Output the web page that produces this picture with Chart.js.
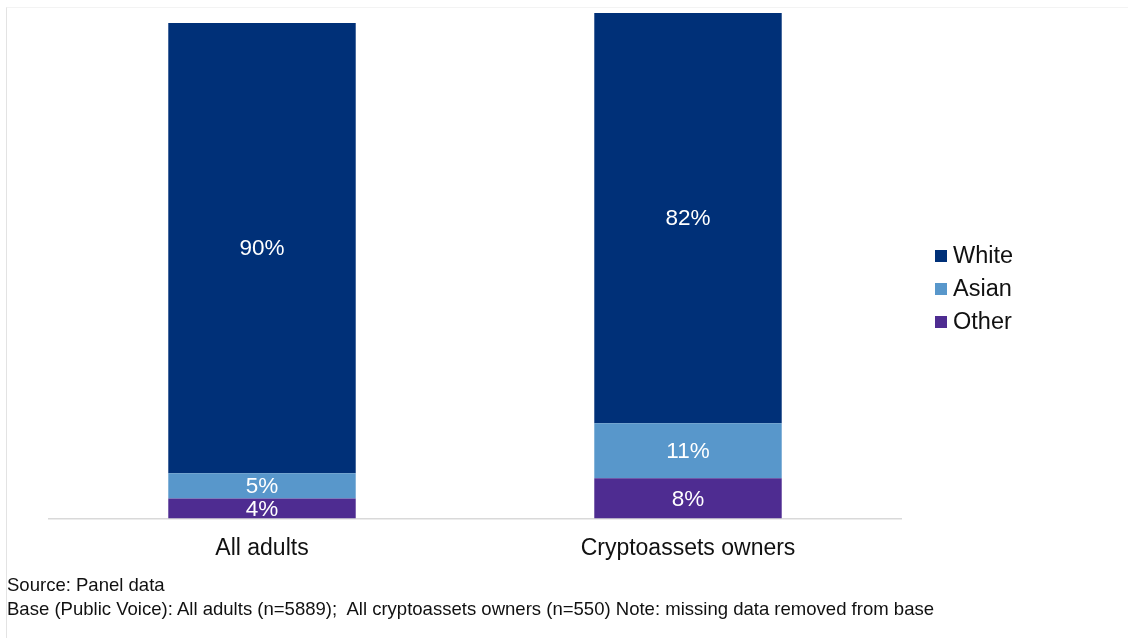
<!DOCTYPE html>
<html>
<head>
<meta charset="utf-8">
<script src="https://cdn.jsdelivr.net/npm/chart.js@4"></script>
<style>
  html, body { margin: 0; padding: 0; background: #fff; }
  body { width: 1128px; height: 638px; position: relative; overflow: hidden;
         font-family: "Liberation Sans", Arial, sans-serif; }
  #frame { position: absolute; left: 6px; top: 7px; width: 1130px; height: 640px;
           border-left: 1px solid #e3e3e3; border-top: 1px solid #f3f3f3; }
  #wrap { position: absolute; left: 0; top: 0; width: 1128px; height: 580px; }
  #legend { position: absolute; left: 935px; top: 239px; font-size: 23.5px; color: #111; }
  #legend div { height: 33px; line-height: 32px; white-space: nowrap; }
  #legend span { display: inline-block; width: 12px; height: 12px; margin-right: 6px; vertical-align: 1px; }
  #notes { position: absolute; left: 7px; top: 573px; font-size: 18.55px; color: #111; line-height: 24px; }
</style>
</head>
<body>
<div id="frame"></div>
<div id="wrap"><canvas id="myChart"></canvas></div>
<div id="legend"></div>
<div id="notes">
  <div>Source: Panel data</div>
  <div>Base (Public Voice): All adults (n=5889);&nbsp; All cryptoassets owners (n=550) Note: missing data removed from base</div>
</div>
<script>
const categories = ['All adults', 'Cryptoassets owners'];
const white = [90, 82];
const asian = [5, 11];
const other = [4, 8];

const seriesNames = ['Other', 'Asian', 'White'];
const seriesColors = ['#4e2c91', '#5897cb', '#003078'];

// Legend on the right, top item is the top of the stack
const legendEl = document.getElementById('legend');
[2, 1, 0].forEach(i => {
  const row = document.createElement('div');
  row.innerHTML = `<span style="background:${seriesColors[i]}"></span>${seriesNames[i]}`;
  legendEl.appendChild(row);
});

// Write the percentage in the middle of every segment
const segmentLabels = {
  id: 'segmentLabels',
  afterDatasetsDraw(chart) {
    const ctx = chart.ctx;
    ctx.save();
    ctx.fillStyle = '#ffffff';
    ctx.font = '22.5px "Liberation Sans", Arial, sans-serif';
    ctx.textAlign = 'center';
    ctx.textBaseline = 'middle';
    chart.data.datasets.forEach((ds, di) => {
      chart.getDatasetMeta(di).data.forEach((bar, i) => {
        const mid = (bar.y + bar.base) / 2;
        ctx.fillText(ds.data[i] + '%', bar.x, mid + 1);
      });
    });
    ctx.restore();
  }
};

const ctx = document.getElementById('myChart').getContext('2d');
window.myChart = new Chart(ctx, {
  type: 'bar',
  data: {
    labels: categories,
    datasets: [
      { label: 'Other', data: other, backgroundColor: seriesColors[0] },
      { label: 'Asian', data: asian, backgroundColor: seriesColors[1] },
      { label: 'White', data: white, backgroundColor: seriesColors[2] }
    ]
  },
  options: {
    responsive: true,
    maintainAspectRatio: false,
    animation: false,
    layout: { padding: { left: 49, right: 227, top: 13, bottom: 2 } },
    datasets: { bar: { categoryPercentage: 1, barPercentage: 0.44 } },
    plugins: {
      legend: { display: false },
      tooltip: { enabled: false }
    },
    scales: {
      x: {
        stacked: true,
        grid: { display: false, drawTicks: false },
        border: { display: true, color: '#d9d9d9', width: 1.5 },
        ticks: {
          color: '#111',
          padding: 16,
          font: { size: 23, family: '"Liberation Sans", Arial, sans-serif' }
        }
      },
      y: {
        stacked: true,
        display: false,
        min: 0,
        max: 101
      }
    }
  },
  plugins: [segmentLabels]
});
</script>
</body>
</html>
